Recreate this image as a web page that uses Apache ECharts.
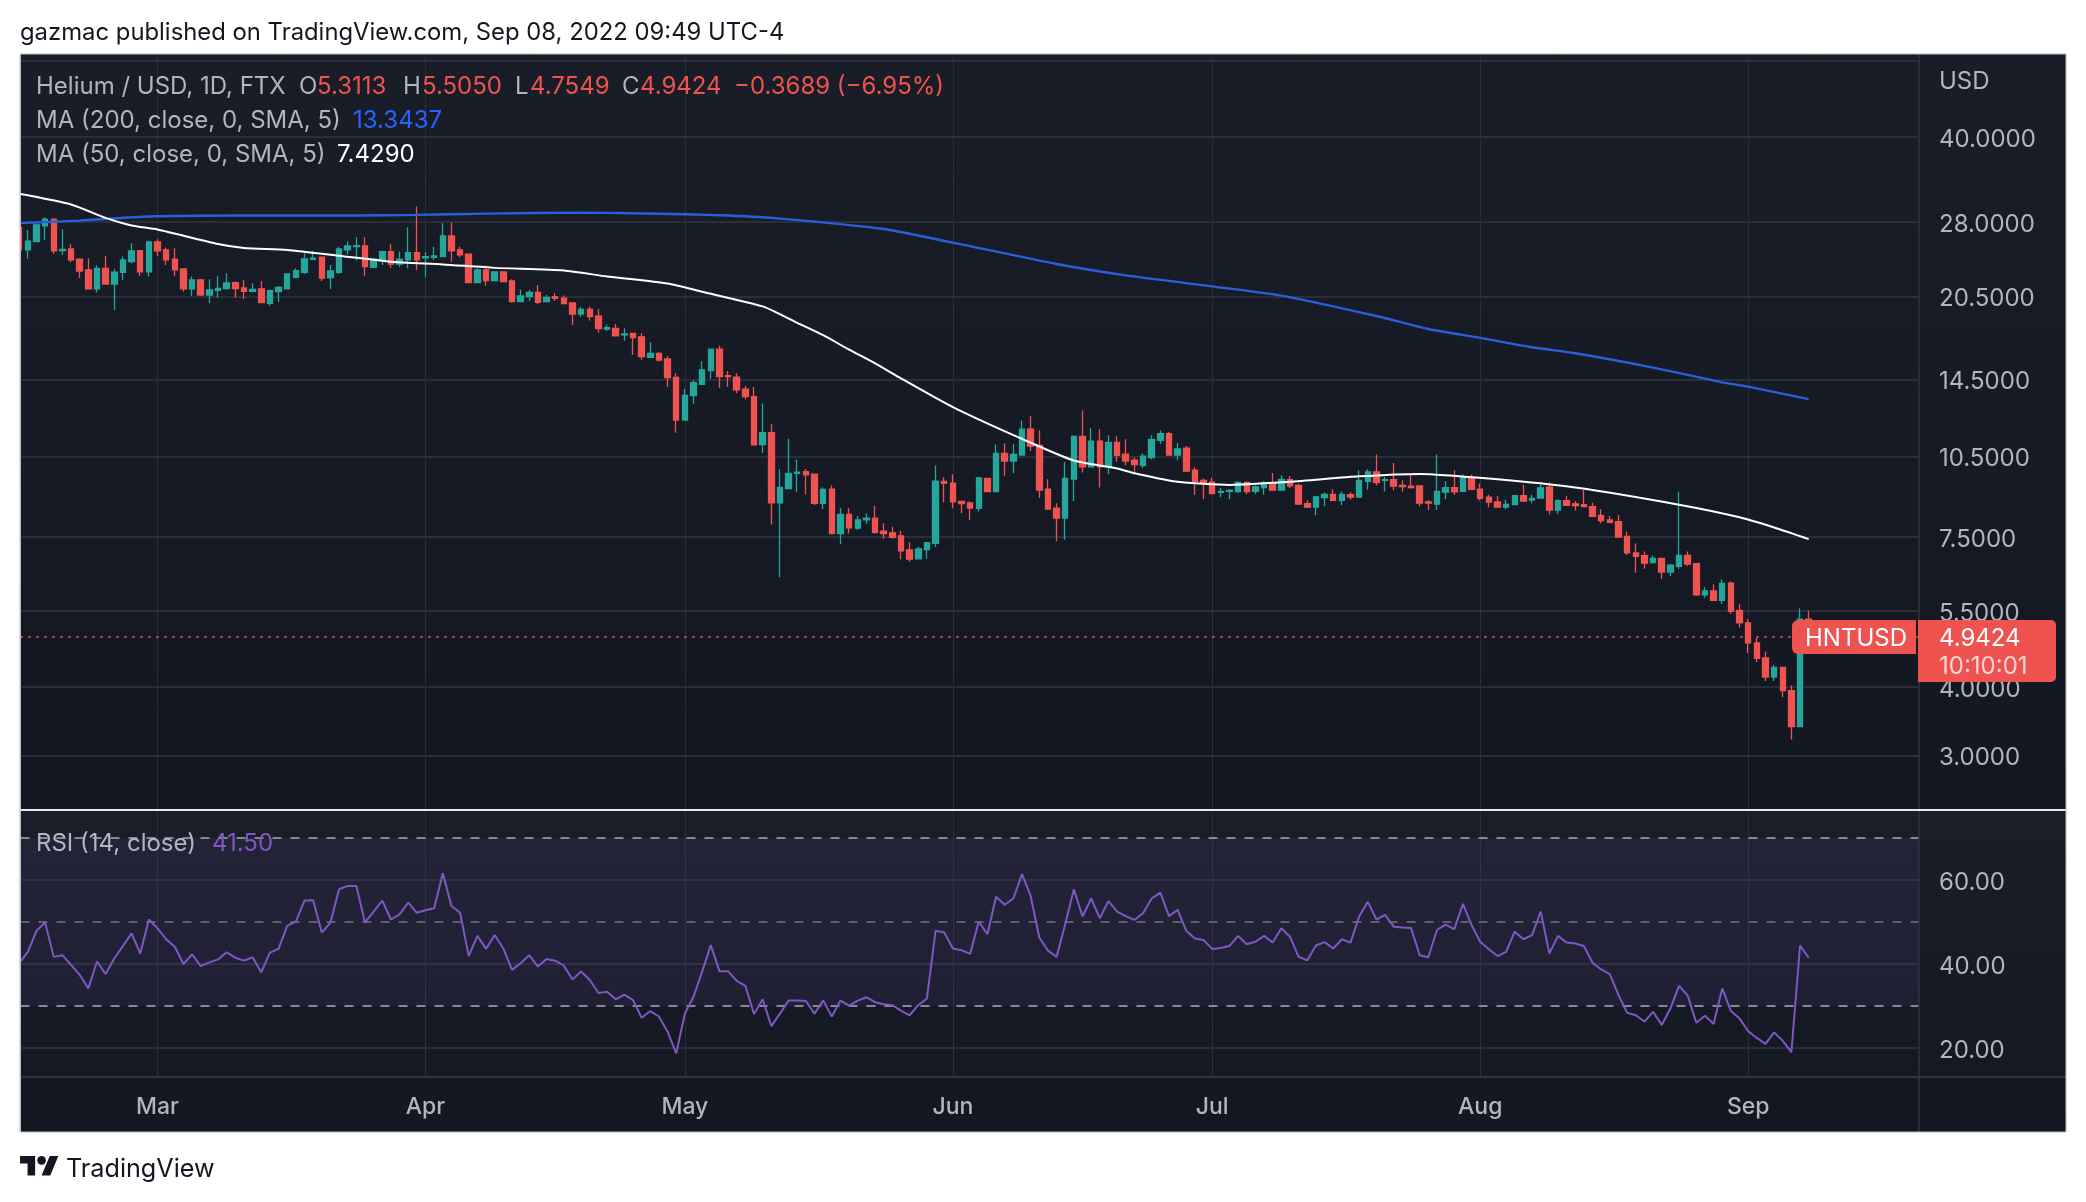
<!DOCTYPE html>
<html><head><meta charset="utf-8"><style>html,body{margin:0;padding:0;background:#fff}#c{width:2086px;height:1202px}</style>
<script src="https://cdn.jsdelivr.net/npm/echarts@6/dist/echarts.min.js"></script></head>
<body><div id="c"></div>
<script>
// Daily candles, each row is [open, close, low, high]
const candlesFeb = [[27.4,24.92,24.9,27.4],[24.92,25.85,24.03,27.1],[25.81,27.67,25.81,27.87],[27.56,28.34,25.99,28.58],[28.34,24.82,24.51,28.34],[24.85,24.99,24.41,27.18],[25.03,23.9,23.67,25.52],[23.97,22.82,22.17,23.97],[22.92,21.17,21.17,24.07],[21.17,23.08,20.85,23.37],[23.08,21.61,21.61,24.31],[21.61,22.7,19.38,22.98],[22.7,23.9,21.98,24.24],[23.73,24.82,23.57,25.63],[24.85,22.73,22.35,24.85],[22.73,25.77,22.29,25.91]];
const candlesMar = [[25.77,24.82,24.31,26.07],[24.92,23.9,23.4,25.17],[23.97,22.92,22.35,25.1],[23.02,21.17,20.93,23.08],[21.17,21.98,20.56,22.29],[21.98,20.64,20.64,22.07],[20.64,21.08,19.93,22.04],[21.05,21.22,20.41,22.35],[21.19,21.7,21.13,22.6],[21.73,21.19,20.41,21.83],[21.25,20.96,20.3,21.98],[20.96,21.13,20.93,21.67],[21.17,19.99,19.99,21.89],[19.93,21.02,19.71,21.13],[20.93,21.31,20.04,21.43],[21.17,22.54,21.13,22.54],[22.23,22.85,22.14,23.08],[22.7,24.0,22.54,24.58],[23.97,24.07,23.9,24.85],[24.17,22.14,21.89,24.24],[22.2,22.82,21.17,23.4],[22.7,25.03,22.54,25.27],[24.92,25.34,24.44,25.85],[25.27,25.38,23.84,26.28],[25.34,23.24,22.35,26.28],[23.17,24.0,23.08,24.0],[23.9,24.75,23.4,24.85],[24.75,23.5,23.11,25.56],[23.5,23.97,23.24,24.75],[23.9,24.65,23.08,27.4],[24.65,23.9,22.92,29.88]];
const candlesApr = [[24.1,24.24,22.23,24.68],[24.17,24.31,23.9,25.27],[24.24,26.42,24.24,27.87],[26.42,24.82,23.73,27.95],[24.92,24.41,24.17,25.27],[24.48,21.73,21.73,24.48],[21.73,22.92,21.67,23.08],[22.92,21.92,21.46,23.34],[21.92,22.73,21.89,22.79],[22.73,21.83,21.83,22.79],[21.89,20.07,19.99,22.04],[20.07,20.56,20.04,21.13],[20.5,20.87,20.13,21.08],[20.87,20.01,19.88,21.52],[20.07,20.44,20.07,20.64],[20.5,20.36,20.13,20.79],[20.36,19.9,19.88,20.59],[19.96,19.06,18.2,20.01],[19.06,19.44,18.85,19.63],[19.44,18.85,18.54,19.66],[18.88,17.93,17.63,19.46],[17.9,18.0,17.76,18.25],[17.95,17.39,17.34,18.28],[17.46,17.53,17.05,17.95],[17.58,17.27,16.06,17.58],[17.32,15.95,15.74,17.58],[15.9,16.17,15.88,16.93],[16.17,15.72,15.62,16.24],[15.79,14.6,14.06,15.99],[14.62,12.23,11.6,14.87]];
const candlesMay = [[12.23,13.56,12.2,13.93],[13.54,14.3,13.09,14.44],[14.2,15.08,14.14,15.64],[15.04,16.45,14.52,16.45],[16.45,14.66,14.0,16.68],[14.72,14.66,14.06,15.01],[14.64,13.87,13.68,14.87],[13.91,13.49,13.34,14.1],[13.49,11.02,11.02,14.04],[11.03,11.6,10.66,13.1],[11.6,8.65,7.9,12.01],[8.65,9.22,6.33,9.95],[9.18,9.78,9.16,11.31],[9.78,9.83,9.05,10.37],[9.85,9.72,8.95,9.96],[9.75,8.63,8.57,9.75],[8.63,9.15,8.43,9.22],[9.16,7.6,7.6,9.3],[7.6,8.24,7.28,8.45],[8.24,7.79,7.6,8.45],[7.78,8.05,7.72,8.18],[8.05,8.11,7.92,8.28],[8.11,7.64,7.6,8.53],[7.68,7.6,7.44,7.94],[7.62,7.48,7.44,7.82],[7.53,7.07,6.83,7.69],[7.1,6.83,6.76,7.33],[6.84,7.13,6.84,7.2],[7.11,7.32,6.84,7.34],[7.3,9.47,7.19,10.11],[9.46,9.38,8.67,9.62]];
const candlesJun = [[9.39,8.68,8.45,9.75],[8.7,8.62,8.28,8.7],[8.64,8.46,8.05,8.7],[8.45,9.6,8.33,9.63],[9.58,9.06,9.06,9.6],[9.06,10.63,9.06,11.04],[10.63,10.3,9.67,11.1],[10.3,10.59,9.79,11.05],[10.56,11.77,10.53,12.21],[11.77,10.96,10.74,12.42],[11.0,9.12,8.82,11.72],[9.16,8.42,8.42,9.54],[8.46,8.11,7.36,8.63],[8.11,9.58,7.41,10.26],[9.55,11.42,8.71,11.47],[11.42,10.05,9.82,12.73],[10.05,11.19,10.05,11.81],[11.19,10.05,9.22,11.77],[10.05,11.14,9.75,11.47],[11.14,10.55,10.28,11.42],[10.6,10.3,10.12,11.28],[10.34,10.15,9.75,10.45],[10.12,10.51,9.99,10.63],[10.45,11.28,10.37,11.47],[11.23,11.55,11.07,11.71],[11.55,10.56,10.56,11.63],[10.56,10.84,10.33,11.12],[10.87,9.87,9.84,10.97],[9.91,9.46,8.93,10.04],[9.5,9.41,8.79,9.57]];
const candlesJul = [[9.43,8.99,8.96,9.6],[9.03,9.07,8.86,9.2],[9.07,9.11,8.78,9.15],[9.06,9.42,9.02,9.46],[9.42,9.06,8.96,9.46],[9.07,9.24,8.96,9.3],[9.22,9.41,8.94,9.46],[9.4,9.12,9.12,9.8],[9.12,9.54,9.12,9.7],[9.53,9.28,9.19,9.66],[9.3,8.6,8.57,9.37],[8.62,8.49,8.49,8.74],[8.49,8.86,8.21,8.9],[8.84,8.96,8.52,9.03],[8.96,8.74,8.74,9.15],[8.74,8.96,8.56,9.07],[8.95,8.86,8.76,9.05],[8.86,9.5,8.86,9.91],[9.46,9.84,9.14,9.95],[9.84,9.41,9.3,10.59],[9.5,9.53,9.07,9.63],[9.53,9.27,9.11,10.21],[9.3,9.25,9.07,9.5],[9.27,9.22,9.18,9.74],[9.28,8.64,8.52,9.3],[8.68,8.64,8.39,8.74],[8.6,9.07,8.39,10.59],[9.04,9.21,8.78,9.46],[9.21,9.05,8.93,9.91],[9.07,9.6,9.05,9.74],[9.6,9.15,9.11,9.74]];
const candlesAug = [[9.16,8.81,8.73,9.38],[8.85,8.67,8.49,8.94],[8.68,8.49,8.47,8.91],[8.49,8.59,8.42,8.76],[8.58,8.91,8.57,8.92],[8.91,8.71,8.68,9.33],[8.75,8.81,8.63,8.94],[8.82,9.2,8.81,9.33],[9.23,8.39,8.23,9.4],[8.39,8.73,8.24,8.78],[8.73,8.56,8.55,8.91],[8.61,8.55,8.37,8.7],[8.58,8.51,8.49,9.13],[8.51,8.17,8.14,8.65],[8.2,8.03,7.94,8.43],[8.05,7.97,7.94,8.18],[7.99,7.49,7.47,8.22],[7.51,7.01,6.95,7.67],[7.01,6.91,6.45,7.29],[6.93,6.72,6.56,7.05],[6.73,6.85,6.71,6.93],[6.85,6.47,6.29,6.85],[6.47,6.66,6.36,6.7],[6.63,6.94,6.56,9.06],[6.94,6.69,6.63,7.05],[6.7,5.88,5.86,6.7],[5.88,5.98,5.81,6.07],[5.98,5.75,5.74,6.15],[5.75,6.17,5.66,6.28],[6.18,5.49,5.43,6.22],[5.51,5.23,5.13,5.66]];
const candlesSep = [[5.23,4.81,4.61,5.31],[4.81,4.51,4.44,4.91],[4.52,4.17,4.1,4.64],[4.17,4.34,4.1,4.39],[4.34,3.94,3.83,4.35],[3.94,3.39,3.21,4.03],[3.39,5.3113,3.39,5.56],[5.3113,4.9424,4.7549,5.505]];
const firstDay = [2022, 1, 13];
// Moving averages read at the dates where the curves could be measured
const ma200 = [['2022-02-13',27.88],['2022-02-20',28.18],['2022-02-28',28.66],['2022-03-10',28.78],['2022-03-24',28.78],['2022-03-31',28.86],['2022-04-08',29.02],['2022-04-19',29.14],['2022-04-25',29.06],['2022-05-01',28.94],['2022-05-06',28.78],['2022-05-12',28.42],['2022-05-24',27.21],['2022-06-01',25.7],['2022-06-13',23.5],['2022-06-21',22.41],['2022-07-01',21.4],['2022-07-09',20.59],['2022-07-20',18.9],['2022-07-26',17.9],['2022-08-01',17.25],['2022-08-07',16.58],['2022-08-12',16.17],['2022-08-21',15.23],['2022-08-29',14.32],['2022-09-01',14.06],['2022-09-08',13.3437]];
const ma50 = [['2022-02-13',31.52],['2022-02-19',30.15],['2022-02-23',28.5],['2022-02-26',27.61],['2022-03-01',27.15],['2022-03-08',25.55],['2022-03-11',25.13],['2022-03-16',24.92],['2022-03-22',24.33],['2022-03-28',23.72],['2022-04-03',23.46],['2022-04-09',23.12],['2022-04-17',22.87],['2022-04-22',22.3],['2022-04-29',21.65],['2022-05-03',20.92],['2022-05-10',19.68],['2022-05-12',19.05],['2022-05-14',18.37],['2022-05-17',17.44],['2022-05-20',16.42],['2022-05-23',15.5],['2022-05-26',14.56],['2022-06-01',12.91],['2022-06-09',11.3],['2022-06-15',10.32],['2022-06-20',9.98],['2022-06-22',9.79],['2022-06-27',9.44],['2022-07-03',9.32],['2022-07-10',9.44],['2022-07-18',9.66],['2022-07-25',9.76],['2022-08-02',9.57],['2022-08-12',9.22],['2022-08-24',8.58],['2022-08-31',8.14],['2022-09-04',7.8],['2022-09-08',7.429]];
const rsiValues = [40.2,42.9,47.9,49.9,41.7,42.1,39.8,37.4,34.2,40.6,37.6,41.3,44.3,47.3,42.5,50.6,48.5,45.9,44.1,40,42.3,39.5,40.4,41.1,42.8,41.5,40.8,41.6,38,42.7,43.6,49.1,50.1,55.1,55.2,47.5,49.8,57.8,58.6,58.6,49.9,52.5,55.1,50.6,51.8,54.6,52.2,52.8,53.3,61.6,53.8,52.2,41.9,46.7,43.6,46.9,43.7,38.6,40.2,42.1,39.4,41.2,40.8,39.6,36.3,38.2,36.2,33.1,33.4,31.6,32.7,31.4,27.2,28.8,27.5,23.9,18.7,28.2,32.2,38.2,44.5,38.3,38.3,36,34.8,28.1,31.6,25.2,28.2,31.3,31.3,31.2,28.2,31.3,27.5,31.3,30.1,31.3,32.1,30.9,30.4,30.2,28.9,27.8,30.2,31.8,47.9,47.5,43.7,43.3,42.4,50.1,47.1,56,54.1,55.6,61.4,56.2,46.3,43.2,41.7,49.5,57.8,51.3,55.6,50.9,55,52.5,51.4,50.5,52.1,55.6,57,51.4,52.9,47.9,46.1,45.7,43.6,43.8,44.3,46.7,44.7,45.3,46.7,45.1,48.5,46.5,41.7,40.9,44.4,45.2,43.7,45.9,45.1,51.3,54.8,50.6,51.7,48.9,48.7,48.6,42.1,41.6,48.1,49.4,48.3,54.3,49.3,45.3,43.5,41.9,42.9,47.7,45.9,46.9,52.5,42.5,46.7,45.1,44.9,44.3,40.3,38.7,37.6,32.6,28.4,27.8,26.3,28.6,25.5,29.4,34.8,32.5,26,27.7,25.7,34.2,28.8,27,24,22.4,21,23.7,21.7,19,44.4,41.5];
const priceTicks = [55,40,28,20.5,14.5,10.5,7.5,5.5,4,3];
const priceLabels = [40,28,20.5,14.5,10.5,7.5,5.5,4,3];
const rsiTicks = [60,40,20];
const rsiLevels = [70,50,30];
const monthStarts = ['2022-03-01','2022-04-01','2022-05-01','2022-06-01','2022-07-01','2022-08-01','2022-09-01'];
const monthNames = ['Mar','Apr','May','Jun','Jul','Aug','Sep'];
const lastClose = 4.9424;

const allCandles = [].concat(candlesFeb,candlesMar,candlesApr,candlesMay,candlesJun,candlesJul,candlesAug,candlesSep);
const dayAt = i => new Date(firstDay[0],firstDay[1],firstDay[2]+i).getTime();
const candleData = allCandles.map((r,i)=>[dayAt(i),r[0],r[1],r[2],r[3]]);
const rsiData = rsiValues.map((v,i)=>[dayAt(i),v]);
const toMs = s => {const p=s.split('-');return new Date(+p[0],+p[1]-1,+p[2]).getTime();};
const xMin = new Date(2022,1,13,3,36).getTime();
const xMax = new Date(2022,8,20,18,14).getTime();
const monthMs = monthStarts.map(toMs);
const FONT = 'Inter, "Liberation Sans", sans-serif';
const AXC = '#b2b5be', GRID = '#2a2e39', UP = '#26a69a', DOWN = '#ef5350', PURPLE = '#7e57c2';

function txt(x,y,t,fill,size,extra){return Object.assign({type:'text',x:x,y:y+2,z:200,silent:true,style:{text:t,fill:fill,font:(size||24)+'px '+FONT,verticalAlign:'middle',align:'left'}},extra||{});}
function grad(c1,c2){return new echarts.graphic.LinearGradient(0,0,0,1,[{offset:0,color:c1},{offset:1,color:c2}]);}
function hline(x1,x2,y,c,w,z){return {type:'line',z:z||150,silent:true,shape:{x1:x1,y1:y,x2:x2,y2:y},style:{stroke:c,lineWidth:w}};}
function vline(x,y1,y2,c,w,z){return {type:'line',z:z||150,silent:true,shape:{x1:x,y1:y1,x2:x,y2:y2},style:{stroke:c,lineWidth:w}};}
const logoOne = [[0,4],[14,4],[14,22],[7,22],[7,11],[0,11]];
const logoSlash = [[20,22],[27.5,4],[35.5,4],[28,22]];
const logoPts = pts => pts.map(p=>[20+p[0]*1.08,1151.7+p[1]*1.08]);
const axisRich = {a:{color:AXC,fontSize:24,fontFamily:FONT,padding:[5,0,0,0]}};

const L=20.5,R=2066,AX=1919,T=54,M=810,B=1077,E=1132;
const graphics = [
 {type:'rect',z:-10,silent:true,shape:{x:L,y:T,width:R-L,height:M-T},style:{fill:grad('#191d28','#131722')}},
 {type:'rect',z:-10,silent:true,shape:{x:L,y:M,width:R-L,height:E-M},style:{fill:grad('#1a1e29','#131722')}},
 {type:'rect',z:155,silent:true,shape:{x:0,y:T,width:L,height:E-T},style:{fill:'#ffffff'}},
 vline(AX,T,E,'#2f333e',1.5),
 hline(L,R,B,'#2f333e',2),
 hline(L,R,M,'#e6e8ee',2),
 {type:'rect',z:160,silent:true,shape:{x:L-0.5,y:T,width:R-L+0.5,height:E-T},style:{fill:'none',stroke:'#b9bcc6',lineWidth:1}},
 txt(20,31,'gazmac published on TradingView.com, Sep 08, 2022 09:49 UTC-4','#131722',23.85),
 txt(36,85,'Helium / USD, 1D, FTX',AXC),
 txt(299,85,'O',AXC),txt(317,85,'5.3113',DOWN),
 txt(403,85,'H',AXC),txt(422,85,'5.5050',DOWN),
 txt(515,85,'L',AXC),txt(530,85,'4.7549',DOWN),
 txt(622,85,'C',AXC),txt(640,85,'4.9424',DOWN),
 txt(734,85,'\u22120.3689 (\u22126.95%)',DOWN),
 txt(36,119,'MA (200, close, 0, SMA, 5)',AXC),txt(353,119,'13.3437','#2962ff'),
 txt(36,153,'MA (50, close, 0, SMA, 5)',AXC),txt(337,153,'7.4290','#ffffff'),
 txt(36,842,'RSI (14, close)',AXC),txt(212,842,'41.50',PURPLE),
 txt(1939,80,'USD',AXC),
 {type:'rect',z:180,silent:true,shape:{x:1792,y:620,width:124,height:34,r:[6,0,0,6]},style:{fill:DOWN}},
 {type:'rect',z:180,silent:true,shape:{x:1918,y:620,width:138,height:62,r:[0,5,5,0]},style:{fill:DOWN}},
 txt(1805,637,'HNTUSD','#ffffff'),txt(1939,637,'4.9424','#ffffff'),txt(1939,665,'10:10:01','rgba(255,255,255,0.75)'),
 {type:'polygon',z:200,silent:true,shape:{points:logoPts(logoOne)},style:{fill:'#131722'}},
 {type:'polygon',z:200,silent:true,shape:{points:logoPts(logoSlash)},style:{fill:'#131722'}},
 {type:'circle',z:200,silent:true,shape:{cx:20+20*1.08,cy:1151.7+8*1.08,r:4*1.08},style:{fill:'#131722'}},
 txt(66,1167,'TradingView','#131722',25.2)
];

const chart = echarts.init(document.getElementById('c'),null,{renderer:'canvas',width:2086,height:1202});
const xBase = {type:'value',min:xMin,max:xMax,axisLine:{show:false},
  axisTick:{show:false,customValues:monthMs},
  splitLine:{show:true,lineStyle:{color:GRID,width:1}}};
chart.setOption({
 animation:false,
 backgroundColor:'#ffffff',
 textStyle:{fontFamily:FONT},
 graphic:{elements:graphics},
 grid:[
  {left:L,top:T,width:AX-L,height:M-T,containLabel:false},
  {left:L,top:M,width:AX-L,height:B-M,containLabel:false}
 ],
 xAxis:[
  Object.assign({},xBase,{gridIndex:0,axisLabel:{show:false}}),
  Object.assign({},xBase,{gridIndex:1,axisLabel:{show:true,customValues:monthMs,color:AXC,fontSize:23,fontWeight:500,fontFamily:FONT,margin:19,hideOverlap:false,showMinLabel:true,showMaxLabel:true,
    formatter:v=>{const i=monthMs.indexOf(+v);return i>=0?monthNames[i]:'';}}})
 ],
 yAxis:[
  {type:'log',logBase:Math.E,gridIndex:0,position:'right',min:2.39,max:56.6,
   axisLine:{show:false},axisTick:{show:false,customValues:priceTicks},
   axisLabel:{show:true,customValues:priceLabels,inside:false,margin:20,align:'left',color:AXC,fontSize:24,fontFamily:FONT,rich:axisRich,formatter:v=>'{a|'+(+v).toFixed(4)+'}'},
   splitLine:{show:true,lineStyle:{color:GRID,width:2}},minorSplitLine:{show:false}},
  {type:'value',gridIndex:1,position:'right',min:13.1,max:76.67,
   axisLine:{show:false},axisTick:{show:false,customValues:rsiTicks},
   axisLabel:{show:true,customValues:rsiTicks,margin:20,align:'left',color:AXC,fontSize:24,fontFamily:FONT,rich:axisRich,formatter:v=>'{a|'+(+v).toFixed(2)+'}'},
   splitLine:{show:true,lineStyle:{color:GRID,width:2}}}
 ],
 series:[
  {type:'candlestick',name:'HNTUSD',xAxisIndex:0,yAxisIndex:0,barWidth:6,data:candleData,encode:{x:0,y:[1,2,3,4]},clip:true,
   itemStyle:{color:UP,color0:DOWN,borderColor:UP,borderColor0:DOWN,borderWidth:1.3},
   markLine:{silent:true,symbol:'none',label:{show:false},lineStyle:{color:DOWN,type:[2,6],width:2},data:[{yAxis:lastClose}]}},
  {type:'line',name:'MA 200',xAxisIndex:0,yAxisIndex:0,data:ma200.map(p=>[toMs(p[0]),p[1]]),showSymbol:false,smooth:0.2,z:5,lineStyle:{color:'#2a5fdc',width:2.4}},
  {type:'line',name:'MA 50',xAxisIndex:0,yAxisIndex:0,data:ma50.map(p=>[toMs(p[0]),p[1]]),showSymbol:false,smooth:0.2,z:5,lineStyle:{color:'#ffffff',width:2}},
  {type:'line',name:'RSI',xAxisIndex:1,yAxisIndex:1,data:rsiData,showSymbol:false,z:5,lineStyle:{color:PURPLE,width:2},
   markArea:{silent:true,itemStyle:{color:'rgba(126,87,194,0.1)'},data:[[{yAxis:rsiLevels[2]},{yAxis:rsiLevels[0]}]]},
   markLine:{silent:true,symbol:'none',label:{show:false},data:[
     {yAxis:rsiLevels[0],lineStyle:{color:'#868993',type:[9,9],width:2}},
     {yAxis:rsiLevels[1],lineStyle:{color:'#5d606b',type:[9,9],width:2}},
     {yAxis:rsiLevels[2],lineStyle:{color:'#868993',type:[9,9],width:2}}]}}
 ]
});
</script></body></html>
